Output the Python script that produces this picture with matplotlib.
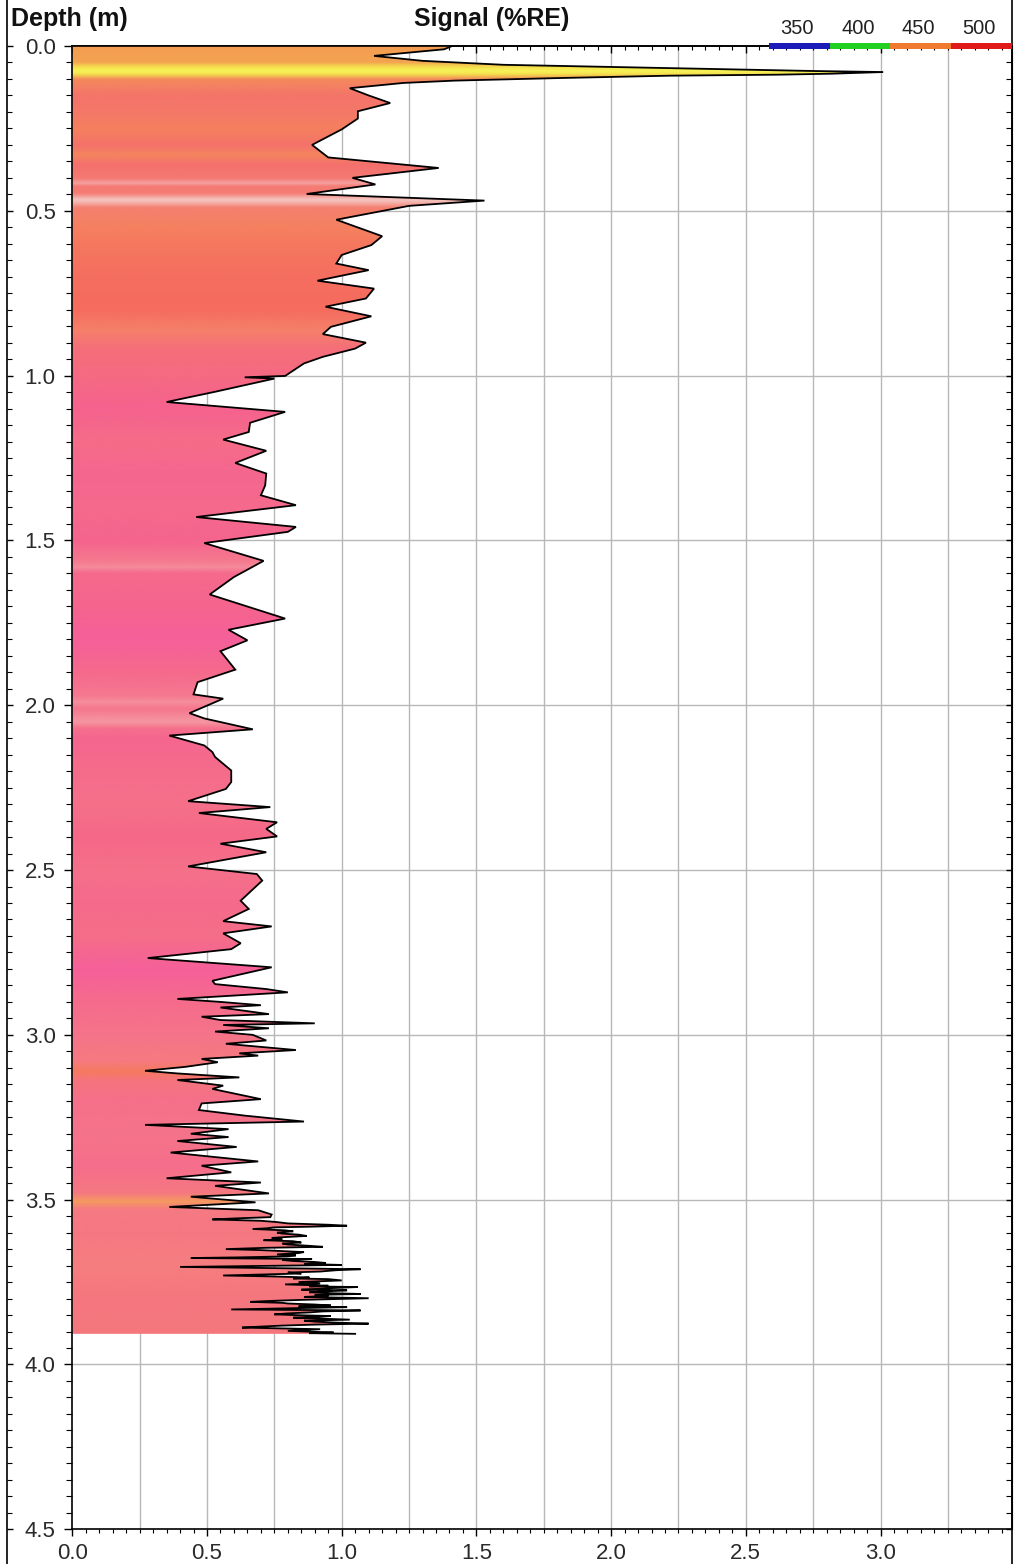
import numpy as np
import matplotlib
matplotlib.use("Agg")
import matplotlib.pyplot as plt
from matplotlib.colors import to_rgb
from matplotlib.lines import Line2D
from matplotlib.patches import Rectangle
from matplotlib.ticker import MultipleLocator

plt.rcParams['font.family'] = ['Liberation Sans', 'DejaVu Sans']

# ---- signal profile: depth (m) and signal (%RE), upper part ----
depth_upper = [
    0.000, 0.010, 0.020, 0.030, 0.045, 0.057, 0.064, 0.068, 0.072, 0.076,
    0.079, 0.084, 0.087, 0.090, 0.097, 0.105, 0.112, 0.128, 0.150, 0.173,
    0.198, 0.220, 0.253, 0.300, 0.338, 0.370, 0.400, 0.420, 0.449, 0.469,
    0.485, 0.527, 0.577, 0.604, 0.634, 0.660, 0.680, 0.712, 0.736, 0.766,
    0.791, 0.820, 0.852, 0.874, 0.900, 0.918, 0.943, 0.963, 1.001, 1.005,
    1.009, 1.049, 1.080, 1.110, 1.143, 1.171, 1.194, 1.228, 1.265, 1.297,
    1.333, 1.363, 1.393, 1.429, 1.459, 1.474, 1.508, 1.562, 1.611, 1.664,
    1.737, 1.771, 1.803, 1.836, 1.892, 1.930, 1.967, 1.980, 2.024, 2.040,
    2.073, 2.092, 2.122, 2.142, 2.157, 2.198, 2.233, 2.254, 2.291, 2.309,
    2.327, 2.355, 2.375, 2.398, 2.420, 2.446, 2.489, 2.512, 2.532, 2.593,
    2.618, 2.655, 2.671, 2.692, 2.722, 2.740, 2.767, 2.795, 2.836, 2.846,
    2.861, 2.871, 2.891, 2.900, 2.910, 2.917, 2.937, 2.945, 2.955, 2.965,
    2.970, 2.980, 2.990, 3.000, 3.017, 3.027, 3.046, 3.056, 3.063, 3.073,
    3.083, 3.097, 3.109, 3.117, 3.129, 3.137, 3.154, 3.164, 3.195, 3.208,
    3.228, 3.245, 3.263, 3.273, 3.286, 3.300, 3.310, 3.322, 3.340, 3.357,
    3.384, 3.397, 3.417, 3.435, 3.448, 3.458, 3.481, 3.491, 3.508, 3.522,
    3.532, 3.545,
]
signal_upper = [
    1.41, 1.38, 1.25, 1.12, 1.30, 1.60, 2.02, 2.26, 2.50, 2.76,
    3.01, 2.82, 2.62, 2.22, 1.82, 1.42, 1.23, 1.03, 1.10, 1.18,
    1.06, 1.06, 1.00, 0.89, 0.95, 1.36, 1.04, 1.125, 0.87, 1.53,
    1.25, 0.98, 1.15, 1.11, 1.00, 0.98, 1.10, 0.91, 1.12, 1.09,
    0.94, 1.11, 0.96, 0.93, 1.09, 1.05, 0.93, 0.86, 0.79, 0.64,
    0.75, 0.53, 0.35, 0.79, 0.66, 0.655, 0.56, 0.72, 0.605, 0.72,
    0.716, 0.70, 0.83, 0.46, 0.83, 0.80, 0.49, 0.71, 0.60, 0.51,
    0.79, 0.58, 0.65, 0.55, 0.605, 0.465, 0.45, 0.56, 0.435, 0.49,
    0.67, 0.36, 0.49, 0.52, 0.53, 0.59, 0.59, 0.57, 0.43, 0.735,
    0.47, 0.76, 0.72, 0.76, 0.55, 0.72, 0.43, 0.685, 0.705, 0.625,
    0.655, 0.56, 0.74, 0.56, 0.625, 0.59, 0.28, 0.74, 0.52, 0.53,
    0.72, 0.80, 0.39, 0.55, 0.70, 0.55, 0.73, 0.48, 0.55, 0.90,
    0.56, 0.73, 0.53, 0.67, 0.72, 0.57, 0.83, 0.62, 0.69, 0.48,
    0.54, 0.42, 0.27, 0.39, 0.62, 0.39, 0.56, 0.52, 0.70, 0.48,
    0.47, 0.64, 0.86, 0.27, 0.58, 0.44, 0.58, 0.39, 0.61, 0.365,
    0.69, 0.48, 0.59, 0.35, 0.70, 0.53, 0.73, 0.44, 0.68, 0.36,
    0.69, 0.74,
]

# ---- lower, densely sampled part of the profile ----
depth_lower = [
    3.553, 3.557, 3.560, 3.564, 3.568, 3.572, 3.576, 3.579, 3.582, 3.584,
    3.587, 3.589, 3.593, 3.596, 3.600, 3.603, 3.606, 3.610, 3.613, 3.616,
    3.620, 3.623, 3.626, 3.630, 3.633, 3.636, 3.640, 3.643, 3.646, 3.650,
    3.653, 3.656, 3.659, 3.662, 3.666, 3.669, 3.672, 3.675, 3.677, 3.680,
    3.683, 3.686, 3.689, 3.692, 3.695, 3.698, 3.701, 3.704, 3.708, 3.711,
    3.714, 3.718, 3.721, 3.724, 3.727, 3.730, 3.733, 3.736, 3.739, 3.741,
    3.745, 3.748, 3.750, 3.754, 3.757, 3.761, 3.763, 3.765, 3.768, 3.770,
    3.773, 3.775, 3.778, 3.781, 3.784, 3.786, 3.789, 3.792, 3.795, 3.799,
    3.802, 3.804, 3.807, 3.810, 3.813, 3.815, 3.818, 3.821, 3.824, 3.826,
    3.830, 3.833, 3.836, 3.839, 3.842, 3.845, 3.848, 3.851, 3.853, 3.856,
    3.858, 3.861, 3.864, 3.867, 3.870, 3.873, 3.876, 3.879, 3.882, 3.885,
    3.888, 3.891, 3.893, 3.896, 3.898, 3.901, 3.903, 3.905, 3.907,
]
signal_lower = [
    0.735, 0.60, 0.52, 0.70, 0.76, 0.80, 0.95, 1.02, 0.88, 0.75,
    0.72, 0.67, 0.79, 0.82, 0.76, 0.78, 0.84, 0.87, 0.80, 0.74,
    0.78, 0.71, 0.82, 0.85, 0.78, 0.80, 0.88, 0.93, 0.72, 0.57,
    0.70, 0.78, 0.86, 0.84, 0.76, 0.83, 0.80, 0.62, 0.44, 0.89,
    0.78, 0.82, 0.90, 0.94, 0.86, 1.00, 0.70, 0.40, 0.80, 1.07,
    0.98, 0.92, 0.80, 0.85, 0.70, 0.56, 0.75, 0.88, 0.82, 0.95,
    1.00, 0.90, 0.84, 0.92, 0.79, 0.95, 0.88, 1.06, 0.97, 0.93,
    0.85, 1.02, 0.94, 0.88, 0.97, 1.07, 0.90, 0.95, 0.86, 1.10,
    0.94, 0.85, 0.74, 0.66, 0.78, 0.80, 0.90, 0.96, 0.84, 1.02,
    0.78, 0.59, 1.07, 0.93, 0.88, 0.80, 0.75, 0.86, 0.96, 0.90,
    0.82, 0.92, 1.03, 0.86, 0.90, 0.98, 1.10, 0.90, 0.78, 0.70,
    0.63, 0.80, 0.92, 0.85, 0.80, 0.90, 0.97, 0.88, 1.05,
]

# ---- colour of each depth layer (reflectance colour) ----
band_depth = [
    0.000, 0.048, 0.058, 0.066, 0.074, 0.082, 0.090, 0.100, 0.150, 0.200,
    0.250, 0.300, 0.330, 0.360, 0.400, 0.415, 0.425, 0.445, 0.465, 0.472,
    0.490, 0.550, 0.600, 0.700, 0.800, 0.860, 0.920, 1.000, 1.100, 1.200,
    1.300, 1.400, 1.500, 1.560, 1.580, 1.600, 1.700, 1.800, 1.900, 1.970,
    1.990, 2.010, 2.050, 2.070, 2.100, 2.200, 2.300, 2.400, 2.500, 2.600,
    2.700, 2.800, 2.900, 3.000, 3.080, 3.110, 3.140, 3.200, 3.300, 3.400,
    3.480, 3.505, 3.530, 3.600, 3.700, 3.800, 3.907,
]
band_color = [
    "#F39C52", "#F3A450", "#F3CC4E", "#F5E650", "#F6F258", "#F5E850", "#F3C050", "#F48A5C", "#F4746A", "#F47868",
    "#F5805E", "#F4726A", "#F4845E", "#F4706E", "#F47A72", "#F5A0A0", "#F47C74", "#F47A72", "#F5C4C0", "#F5B8B2",
    "#F48070", "#F58060", "#F5785E", "#F56E60", "#F56C5E", "#F5806A", "#F56E7A", "#F56A82", "#F5628E", "#F56C88",
    "#F56690", "#F56A8C", "#F5648E", "#F5788E", "#F58A9C", "#F56A8C", "#F5648E", "#F5609A", "#F56A8C", "#F57890",
    "#F58E9C", "#F5768E", "#F596A2", "#F5708C", "#F56690", "#F56C8A", "#F5708A", "#F56888", "#F5708A", "#F56A8C",
    "#F56E88", "#F5609A", "#F56C8C", "#F5748A", "#F57A80", "#F57A60", "#F5747E", "#F5708A", "#F5748A", "#F56E8C",
    "#F57880", "#F59A60", "#F57A82", "#F57882", "#F57E80", "#F5767E", "#F5787E",
]

x_ticks = [0.0, 0.5, 1.0, 1.5, 2.0, 2.5, 3.0]
y_ticks = [0.0, 0.5, 1.0, 1.5, 2.0, 2.5, 3.0, 3.5, 4.0, 4.5]

legend_labels = ["350", "400", "450", "500"]
legend_colors = ["#1C1CB8", "#22D022", "#F07A30", "#E01A1A"]

# ---- figure ----
W, H = 1026, 1564
fig = plt.figure(figsize=(W / 100, H / 100), dpi=100)
ax_l, ax_r, ax_t, ax_b = 72.3, 1011.7, 46.0, 1529.3
ax = fig.add_axes([ax_l / W, 1 - ax_b / H, (ax_r - ax_l) / W, (ax_b - ax_t) / H])

xmax = 3.487
ax.set_xlim(0, xmax)
ax.set_ylim(4.5, 0.0)

grid_kw = dict(color="#B8B8B8", lw=1.0, zorder=0)
for gx in np.arange(0.25, xmax, 0.25):
    ax.axvline(gx, **grid_kw)
for gy in np.arange(0.5, 4.5, 0.5):
    ax.axhline(gy, **grid_kw)

d = np.asarray(depth_upper + depth_lower)
s = np.asarray(signal_upper + signal_lower)
assert d.shape == s.shape

# colour stripes clipped to the profile
fill = ax.fill_betweenx(d, 0, s, facecolor="none", edgecolor="none", zorder=2)
rows = np.linspace(0, d[-1], 2400)
rgb = np.array([to_rgb(c) for c in band_color])
img = np.stack([np.interp(rows, band_depth, rgb[:, k]) for k in range(3)], axis=-1)
img = img[:, None, :]
im = ax.imshow(img, extent=(0, xmax, d[-1], 0), aspect="auto",
               interpolation="bilinear", zorder=2)
im.set_clip_path(fill.get_paths()[0], transform=ax.transData)
ax.plot(s, d, color="black", lw=1.3, zorder=3, solid_joinstyle="miter")

ax.set_xlim(0, xmax)
ax.set_ylim(4.5, 0.0)

# ticks
tick_color = "#2A2A2A"
ax.set_xticks(x_ticks)
ax.set_xticklabels([f"{v:.1f}" for v in x_ticks])
ax.set_yticks(y_ticks)
ax.set_yticklabels([f"{v:.1f}" for v in y_ticks])
ax.xaxis.set_minor_locator(MultipleLocator(0.05))
ax.yaxis.set_minor_locator(MultipleLocator(0.05))
ax.tick_params(axis="x", which="major", direction="out", length=5, width=1.0,
               labelsize=16, pad=5, top=False, labelcolor=tick_color)
ax.tick_params(axis="x", which="minor", direction="out", length=3, width=0.8, top=False)
ax.tick_params(axis="y", which="major", direction="out", length=6, width=1.0,
               labelsize=16, pad=6, right=False, labelcolor=tick_color)
ax.tick_params(axis="y", which="minor", direction="out", length=4, width=0.8, right=False)

# top axis: ticks pointing down into the plot
top = ax.secondary_xaxis("top")
top.set_xticks(x_ticks)
top.xaxis.set_minor_locator(MultipleLocator(0.05))
top.tick_params(which="major", direction="in", length=5, width=1.0, labeltop=False)
top.tick_params(which="minor", direction="in", length=3, width=0.8)
top.spines["top"].set_linewidth(1.2)

# right axis: ticks pointing left
right = ax.secondary_yaxis("right")
right.set_yticks(y_ticks)
right.yaxis.set_minor_locator(MultipleLocator(0.05))
right.tick_params(which="major", direction="in", length=4, width=1.0, labelright=False)
right.tick_params(which="minor", direction="in", length=4, width=0.8)

# outer depth scale line at the far left
loc = (7.0 - ax_l) / (ax_r - ax_l)
outer = ax.secondary_yaxis(loc)
outer.set_yticks(y_ticks)
outer.yaxis.set_minor_locator(MultipleLocator(0.05))
outer.tick_params(which="major", direction="in", length=4, width=1.0, labelleft=False)
outer.tick_params(which="minor", direction="in", length=3.5, width=0.8)
outer.spines["left"].set_visible(False)

for sp in ax.spines.values():
    sp.set_linewidth(1.2)

# full-height frame lines
fig.add_artist(Line2D([7.0 / W, 7.0 / W], [0, 1], color="black", lw=1.2))
fig.add_artist(Line2D([ax_r / W, ax_r / W], [0, 1], color="black", lw=1.2))

# titles
fig.text(11 / W, 1 - 19 / H, "Depth (m)", fontsize=18, fontweight="bold",
         ha="left", va="center", color="#111111")
fig.text(492 / W, 1 - 19 / H, "Signal (%RE)", fontsize=18, fontweight="bold",
         ha="center", va="center", color="#111111")

# wavelength colour key
seg_left = 769.0
seg_w = (ax_r - seg_left) / len(legend_colors)
for i, (lab, col) in enumerate(zip(legend_labels, legend_colors)):
    x0 = seg_left + i * seg_w
    fig.add_artist(Rectangle((x0 / W, 1 - 48.5 / H), seg_w / W, 5.5 / H,
                             facecolor=col, edgecolor="none", zorder=5))
    fig.text((x0 + seg_w / 2 - 2) / W, 1 - 28 / H, lab, fontsize=14.5,
             ha="center", va="center", color="#222222")

fig.savefig("out.png", dpi=100)
